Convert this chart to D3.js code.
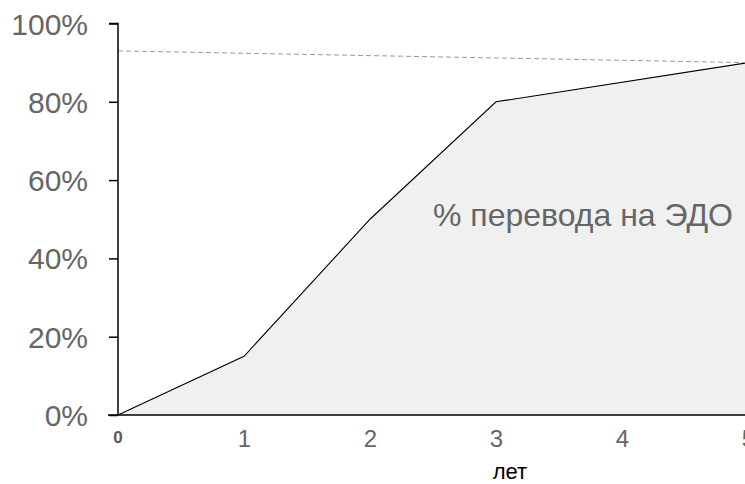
<!DOCTYPE html>
<html><head><meta charset="utf-8">
<script src="https://cdn.jsdelivr.net/npm/d3@7"></script>
<style>body{margin:0;background:#fff}svg{display:block;font-family:"Liberation Sans",Arial,sans-serif}</style>
</head><body>
<script>
const years = [0, 1, 2, 3, 5];
const percent = [0, 15, 50, 80, 90];
const targetYears = [0, 5];
const targetPercent = [93, 90];
const xTicks = [1, 2, 3, 4, 5];
const yTicks = [0, 20, 40, 60, 80, 100];
const areaLabel = "% перевода на ЭДО";
const xTitle = "лет";

const W = 745, H = 484;
const svg = d3.select("body").append("svg").attr("width", W).attr("height", H);
const x = d3.scaleLinear().domain([0, 5]).range([118, 748]);
const y = d3.scaleLinear().domain([0, 100]).range([415, 23.5]);

const pts = years.map((d, i) => [d, percent[i]]);
svg.append("path").datum(pts)
  .attr("d", d3.area().x(d => x(d[0])).y0(y(0)).y1(d => y(d[1])))
  .attr("fill", "#f0f0f0");
svg.append("path").datum(pts)
  .attr("d", d3.line().x(d => x(d[0])).y(d => y(d[1])))
  .attr("fill", "none").attr("stroke", "#000").attr("stroke-width", 1.1);

svg.append("path").datum(targetYears.map((d, i) => [d, targetPercent[i]]))
  .attr("d", d3.line().x(d => x(d[0])).y(d => y(d[1])))
  .attr("fill", "none").attr("stroke", "#999").attr("stroke-width", 1).attr("stroke-dasharray", "5,3");

// y axis
const ya = svg.append("g").attr("transform", `translate(${x(0)},0)`)
  .call(d3.axisLeft(y).tickValues(yTicks).tickFormat(d => d + "%").tickSize(9).tickPadding(21));
ya.select(".domain").attr("stroke", "#000").attr("stroke-width", 1.5).attr("d", `M-9,${y(100)}H0V${y(0)}`);
ya.selectAll(".tick line").attr("stroke", "#000").attr("stroke-width", 1.5);
ya.selectAll(".tick text").attr("fill", "#666").style("font-size", "30px").style("font-family", "Liberation Sans, Arial, sans-serif").attr("dy", "0.35em");

// x axis
svg.append("line").attr("x1", 108).attr("x2", W).attr("y1", y(0)).attr("y2", y(0))
  .attr("stroke", "#000").attr("stroke-width", 1.5);
const xa = svg.append("g").attr("transform", `translate(0,${y(0)})`)
  .call(d3.axisBottom(x).tickValues(xTicks).tickFormat(d3.format("d")).tickSize(0).tickPadding(15));
xa.select(".domain").remove();
xa.selectAll(".tick text").attr("fill", "#666").attr("dy", null).attr("y", 32)
  .style("font-size", "24px").style("font-family", "Liberation Sans, Arial, sans-serif");
svg.append("text").attr("x", x(0)).attr("y", 443).attr("text-anchor", "middle")
  .attr("fill", "#595959").style("font-size", "17px").attr("font-weight", "bold").text("0");

svg.append("text").attr("x", 510).attr("y", 479).attr("text-anchor", "middle")
  .attr("fill", "#000").style("font-size", "22px").text(xTitle);

svg.append("text").attr("x", 583).attr("y", 226).attr("text-anchor", "middle")
  .attr("fill", "#666").style("font-size", "32px").text(areaLabel);
</script>
</body></html>
